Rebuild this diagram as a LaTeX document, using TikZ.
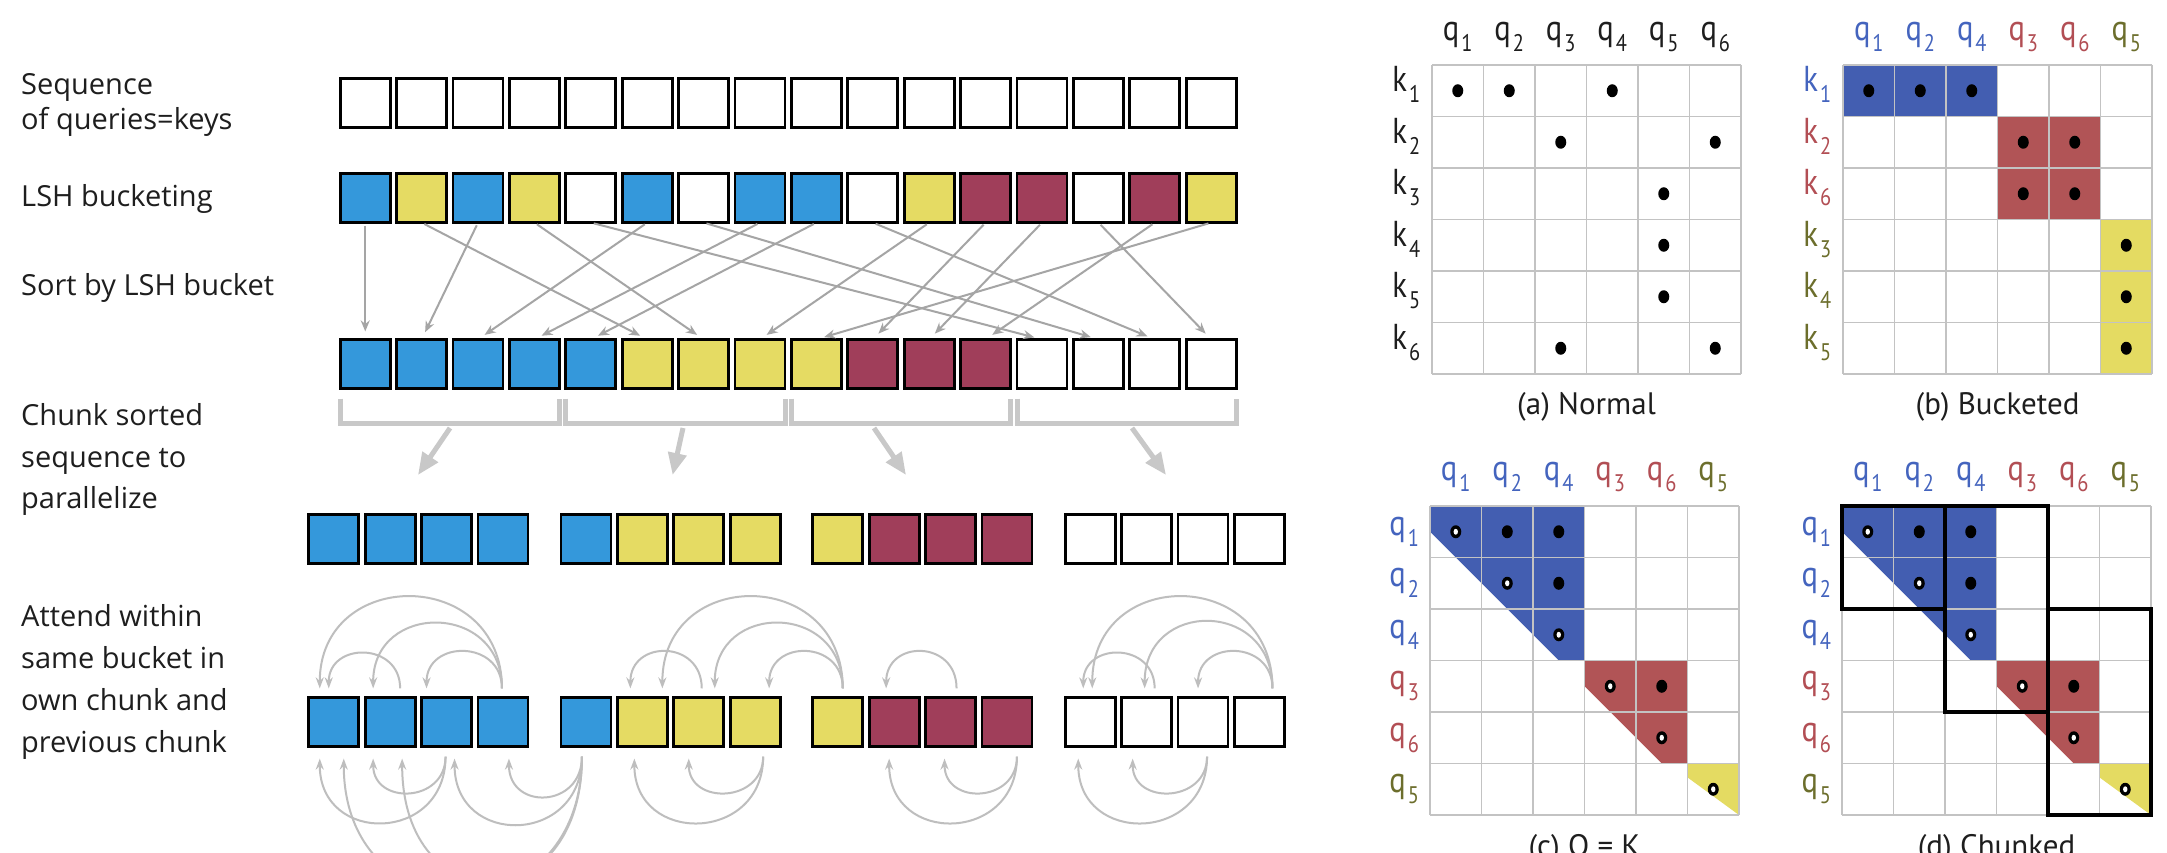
\documentclass[tikz,border=0pt]{standalone}
\usepackage{fontspec}
\setmainfont{Open Sans}
\newfontfamily\mfont[FakeStretch=0.85]{PT Sans}
\newfontfamily\cfont{PT Sans}
\usetikzlibrary{arrows.meta,calc}
\definecolor{cB}{RGB}{52,152,219}
\definecolor{cY}{RGB}{229,219,99}
\definecolor{cM}{RGB}{160,62,90}
\definecolor{mB}{RGB}{67,94,177}
\definecolor{mR}{RGB}{177,84,86}
\definecolor{mY}{RGB}{228,219,98}
\definecolor{lB}{RGB}{68,100,190}
\definecolor{lR}{RGB}{178,78,84}
\definecolor{lO}{RGB}{108,110,44}
\definecolor{txt}{RGB}{30,30,30}
\definecolor{gridc}{RGB}{195,195,195}
\definecolor{permc}{RGB}{165,165,165}
\definecolor{attc}{RGB}{190,190,190}
\definecolor{brkc}{RGB}{200,200,200}
\newcommand\sbs[1]{\kern2pt\raisebox{-11pt}{\fontsize{24}{24}\selectfont #1}}
\newcommand\arcT[5]{\draw[att] ([xshift=#2pt,yshift=9pt]#1.north) .. controls +(0,-#5) and +(0,-#5) .. ([xshift=#4pt,yshift=9pt]#3.north);}
\newcommand\arcB[5]{\draw[att] ([xshift=#2pt,yshift=-10pt]#1.south) .. controls +(0,#5) and +(0,#5) .. ([xshift=#4pt,yshift=-12pt]#3.south);}
\begin{document}
\begin{tikzpicture}[x=1pt,y=-1pt,
  lbl/.style={anchor=base west, inner sep=0pt, font=\fontsize{29}{34}\selectfont, text=txt},
  bx/.style={draw=black, line width=2.8pt, minimum width=50pt, minimum height=49.2pt, inner sep=0pt, outer sep=0pt},
  perm/.style={draw=permc, line width=2pt, shorten <=3pt, shorten >=8pt, -{Stealth[length=11pt,width=9pt]}},
  brk/.style={draw=brkc, line width=5pt},
  thk/.style={draw=brkc, line width=5pt, -{Triangle[length=22pt,width=18pt]}},
  att/.style={draw=attc, line width=2pt, -{Stealth[length=11pt,width=8pt]}},
  gl/.style={draw=gridc, line width=1.5pt},
  ml/.style={inner sep=0pt, font=\mfont\fontsize{36}{36}\selectfont, text=txt},
  captxt/.style={inner sep=0pt, font=\cfont\fontsize{31}{31}\selectfont, text=txt},
  chk/.style={draw=black, line width=3.5pt}]
\useasboundingbox (0,0) rectangle (2167,853);
\clip (0,0) rectangle (2167,853);
\fill[white] (0,0) rectangle (2167,853);

% ---------- left labels
\node[lbl] (t1a) at (21,95) {Sequence};
\node[lbl] (t1b) at (21,130) {of queries=keys};
\node[lbl] (t2) at (21,207) {LSH bucketing};
\node[lbl] (t3) at (21,295) {Sort by LSH bucket};
\node[lbl] (t4a) at (21,425) {Chunk sorted};
\node[lbl] (t4b) at (21,467) {sequence to};
\node[lbl] (t4c) at (21,508) {parallelize};
\node[lbl] (t5a) at (21,626) {Attend within};
\node[lbl] (t5b) at (21,668) {same bucket in};
\node[lbl] (t5c) at (21,710) {own chunk and};
\node[lbl] (t5d) at (21,752) {previous chunk};

% ---------- rows
\foreach \i in {0,...,15} \node[bx,fill=white] (r1-\i) at ({365.25+56.4*\i},103) {};
\foreach \c [count=\j from 0] in {cB,cY,cB,cY,white,cB,white,cB,cB,white,cY,cM,cM,white,cM,cY}
  \node[bx,fill=\c] (r2-\j) at ({365.25+56.4*\j},198) {};
\foreach \c [count=\j from 0] in {cB,cB,cB,cB,cB,cY,cY,cY,cY,cM,cM,cM,white,white,white,white}
  \node[bx,fill=\c] (r3-\j) at ({365.25+56.4*\j},364) {};
\foreach \s/\t in {0/0,1/5,2/1,3/6,4/12,5/2,6/13,7/3,8/4,9/14,10/7,11/9,12/10,13/15,14/11,15/8}
  \draw[perm] (r2-\s.south) -- (r3-\t.north);

% ---------- brackets
\foreach \k in {0,...,3}{
  \pgfmathtruncatemacro\a{4*\k}
  \pgfmathtruncatemacro\b{4*\k+3}
  \draw[brk] ($(r3-\a.south west)+(0,10)$) -- ($(r3-\a.south west)+(0,35)$) -- ($(r3-\b.south east)+(0,35)$) -- ($(r3-\b.south east)+(0,10)$);
}
\coordinate (ts0) at (450,428); \coordinate (tp0) at (418,475);
\coordinate (ts1) at (683,428); \coordinate (tp1) at (672.6,475);
\coordinate (ts2) at (874,428); \coordinate (tp2) at (906,475);
\coordinate (ts3) at (1132,428); \coordinate (tp3) at (1166,475);
\foreach \k in {0,...,3} \draw[thk] (ts\k) -- (tp\k);

% ---------- chunks
\foreach \k/\L/\ca/\cb/\cc/\cd in {1/307.5/cB/cB/cB/cB,2/559.7/cB/cY/cY/cY,3/811.5/cY/cM/cM/cM,4/1064/white/white/white/white}{
  \node[bx,fill=\ca] (c4-\k-0) at ({\L+26.25},539) {};
  \node[bx,fill=\cb] (c4-\k-1) at ({\L+26.25+56.4},539) {};
  \node[bx,fill=\cc] (c4-\k-2) at ({\L+26.25+112.8},539) {};
  \node[bx,fill=\cd] (c4-\k-3) at ({\L+26.25+169.2},539) {};
  \node[bx,fill=\ca] (c5-\k-0) at ({\L+26.25},722) {};
  \node[bx,fill=\cb] (c5-\k-1) at ({\L+26.25+56.4},722) {};
  \node[bx,fill=\cc] (c5-\k-2) at ({\L+26.25+112.8},722) {};
  \node[bx,fill=\cd] (c5-\k-3) at ({\L+26.25+169.2},722) {};
}

% ---------- attention arcs (top)
\arcT{c5-1-1}{10}{c5-1-0}{-5}{46.7}
\arcT{c5-1-3}{-1}{c5-1-2}{-20}{48.9}
\arcT{c5-1-3}{-1}{c5-1-1}{-17}{86.7}
\arcT{c5-1-3}{-1}{c5-1-0}{-14}{122}
\arcT{c5-2-2}{3}{c5-2-1}{-12}{48.9}
\arcT{c5-3-0}{5}{c5-2-1}{20}{122}
\arcT{c5-3-0}{5}{c5-2-2}{16}{86.7}
\arcT{c5-3-0}{5}{c5-2-3}{14}{48.9}
\arcT{c5-3-2}{6}{c5-3-1}{-8}{48.9}
\arcT{c5-4-1}{8}{c5-4-0}{-7}{46.7}
\arcT{c5-4-3}{13}{c5-4-2}{-5}{48.9}
\arcT{c5-4-3}{13}{c5-4-1}{-2}{89}
\arcT{c5-4-3}{13}{c5-4-0}{2}{122}
% ---------- attention arcs (bottom)
\arcB{c5-1-2}{-1}{c5-1-0}{-14}{86.7}
\arcB{c5-1-2}{-1}{c5-1-1}{-17}{46.7}
\arcB{c5-2-0}{-4}{c5-1-0}{10}{180}
\arcB{c5-2-0}{-4}{c5-1-1}{12}{165}
\arcB{c5-2-0}{-4}{c5-1-2}{8}{89}
\arcB{c5-2-0}{-4}{c5-1-3}{6}{52}
\arcB{c5-2-3}{8}{c5-2-1}{-8}{86.7}
\arcB{c5-2-3}{8}{c5-2-2}{-10}{46.7}
\arcB{c5-3-3}{10}{c5-3-1}{-5}{86.7}
\arcB{c5-3-3}{10}{c5-3-2}{-6}{46.7}
\arcB{c5-4-2}{4}{c5-4-0}{-12}{86.7}
\arcB{c5-4-2}{4}{c5-4-1}{-14}{46.7}

% ---------- matrix (a)
\begin{scope}[shift={(1432,65)},x=51.5pt,y=-51.5pt]
  \foreach \i in {0,...,6}{\draw[gl] (0,\i) -- (6,\i); \draw[gl] (\i,0) -- (\i,6);}
  \foreach \c/\r in {0/0,1/0,3/0,2/1,5/1,4/2,4/3,4/4,2/5,5/5}
    \fill ({\c+0.5},{\r+0.5}) ellipse (5.5pt and 6.5pt);
  \foreach \c in {1,...,6} \node[ml] (aq\c) at ({\c-0.5},-0.55) {q\sbs{\c}};
  \foreach \r in {1,...,6} \node[ml] (ak\r) at (-0.5,{\r-0.5-0.12}) {k\sbs{\r}};
  \node[captxt] (acap) at (3,6.64) {(a) Normal};
\end{scope}

% ---------- matrix (b)
\begin{scope}[shift={(1843,65)},x=51.5pt,y=-51.5pt]
  \fill[mB] (0,0) rectangle (3,1);
  \fill[mR] (3,1) rectangle (5,3);
  \fill[mY] (5,3) rectangle (6,6);
  \foreach \i in {0,...,6}{\draw[gl] (0,\i) -- (6,\i); \draw[gl] (\i,0) -- (\i,6);}
  \foreach \c/\r in {0/0,1/0,2/0,3/1,4/1,3/2,4/2,5/3,5/4,5/5}
    \fill ({\c+0.5},{\r+0.5}) ellipse (5.5pt and 6.5pt);
  \foreach \n/\col [count=\c] in {1/lB,2/lB,4/lB,3/lR,6/lR,5/lO}
    \node[ml,text=\col] (bq\c) at ({\c-0.5},-0.55) {q\sbs{\n}};
  \foreach \n/\col [count=\r] in {1/lB,2/lR,6/lR,3/lO,4/lO,5/lO}
    \node[ml,text=\col] (bk\r) at (-0.5,{\r-0.5-0.12}) {k\sbs{\n}};
  \node[captxt] (bcap) at (3,6.64) {(b) Bucketed};
\end{scope}

% ---------- matrices (c) and (d)
\foreach \X/\p in {1430/c,1842/d}{
\begin{scope}[shift={(\X,506)},x=51.5pt,y=-51.5pt]
  \fill[mB] (0,0) -- (3,0) -- (3,3) -- (2.5,3) -- (0,0.5) -- cycle;
  \fill[mR] (3,3) -- (5,3) -- (5,5) -- (4.5,5) -- (3,3.5) -- cycle;
  \fill[mY] (5,5) -- (6,5) -- (6,6) -- (5,5.27) -- cycle;
  \foreach \i in {0,...,6}{\draw[gl] (0,\i) -- (6,\i); \draw[gl] (\i,0) -- (\i,6);}
  \foreach \c/\r in {1/0,2/0,2/1,4/3}
    \fill ({\c+0.5},{\r+0.5}) ellipse (5.5pt and 6.5pt);
  \foreach \c/\r in {0/0,1/1,2/2,3/3,4/4,5/5}{
    \fill ({\c+0.5},{\r+0.5}) ellipse (5.5pt and 6.5pt);
    \fill[white] ({\c+0.5},{\r+0.5}) ellipse (2.2pt and 3pt);}
  \foreach \n/\col [count=\c] in {1/lB,2/lB,4/lB,3/lR,6/lR,5/lO}
    \node[ml,text=\col] (\p q\c) at ({\c-0.5},-0.57) {q\sbs{\n}};
  \foreach \n/\col [count=\r] in {1/lB,2/lB,4/lB,3/lR,6/lR,5/lO}
    \node[ml,text=\col] (\p k\r) at (-0.5,{\r-0.5}) {q\sbs{\n}};
\end{scope}}
\node[captxt] (ccap) at (1584.5,849) {(c) Q = K};
\node[captxt] (dcap) at (1996.5,849) {(d) Chunked};
\begin{scope}[shift={(1842,506)},x=51.5pt,y=-51.5pt]
  \draw[chk] (0,0) rectangle (2,2);
  \draw[chk] (2,0) rectangle (4,4);
  \draw[chk] (4,2) rectangle (6,6);
\end{scope}
\end{tikzpicture}
\end{document}
